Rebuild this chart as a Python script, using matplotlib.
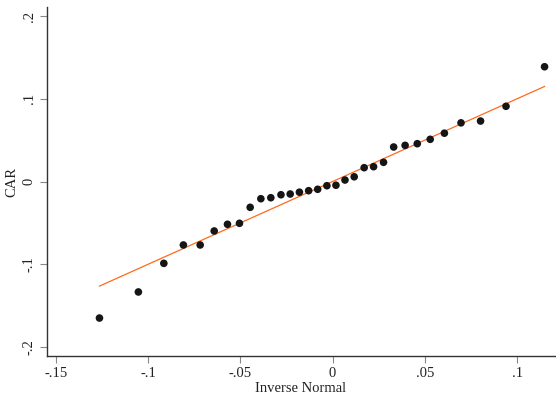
import matplotlib.pyplot as plt
import numpy as np

plt.rcParams['font.family'] = ['Liberation Serif', 'DejaVu Serif']

# inverse normal quantiles (x) and observed CAR (y), sorted
inv_normal = [-0.1264, -0.1053, -0.0915, -0.0809, -0.0718, -0.0642, -0.0570, -0.0505,
              -0.0447, -0.0389, -0.0335, -0.0280, -0.0230, -0.0180, -0.0130, -0.0081,
              -0.0031, 0.0018, 0.0067, 0.0117, 0.0171, 0.0222, 0.0276, 0.0331,
              0.0393, 0.0459, 0.0529, 0.0606, 0.0696, 0.0802, 0.0940, 0.1149]
car = [-0.1650, -0.1335, -0.0989, -0.0767, -0.0767, -0.0598, -0.0517, -0.0505,
       -0.0312, -0.0208, -0.0196, -0.0160, -0.0151, -0.0129, -0.0111, -0.0094,
       -0.0051, -0.0045, 0.0018, 0.0057, 0.0167, 0.0179, 0.0232, 0.0417,
       0.0437, 0.0457, 0.0510, 0.0584, 0.0709, 0.0731, 0.0909, 0.1387]

xticks = [-0.15, -0.1, -0.05, 0, 0.05, 0.1]
xticklabels = ['-.15', '-.1', '-.05', '0', '.05', '.1']
yticks = [-0.2, -0.1, 0, 0.1, 0.2]
yticklabels = ['-.2', '-.1', '0', '.1', '.2']

fig = plt.figure(figsize=(5.56, 4.03), dpi=100)
ax = fig.add_axes([0.084, 0.1166, 0.914, 0.866])

x = np.array(inv_normal)
ax.plot([x.min(), x.max()], [x.min(), x.max()], color='#ff6a1c', lw=0.9, zorder=1)
ax.scatter(inv_normal, car, s=30, color='#151515', edgecolors='none', zorder=2)

ax.set_xlim(-0.155, 0.1205)
ax.set_ylim(-0.2109, 0.2109)
ax.set_xticks(xticks)
ax.set_xticklabels(xticklabels)
ax.set_yticks(yticks)
ax.set_yticklabels(yticklabels, rotation=90, va='center')

for s in ['top', 'right']:
    ax.spines[s].set_visible(False)
for s in ['left', 'bottom']:
    ax.spines[s].set_color('#333333')
    ax.spines[s].set_linewidth(1.0)
ax.tick_params(length=5, width=0.8, color='#888888', labelsize=10.5, labelcolor='#222222', pad=3)

ax.set_xlabel('Inverse Normal', fontsize=10.5, color='#222222', labelpad=1)
ax.set_ylabel('CAR', fontsize=10.5, color='#222222', labelpad=3)

fig.savefig('out.png', dpi=100)
